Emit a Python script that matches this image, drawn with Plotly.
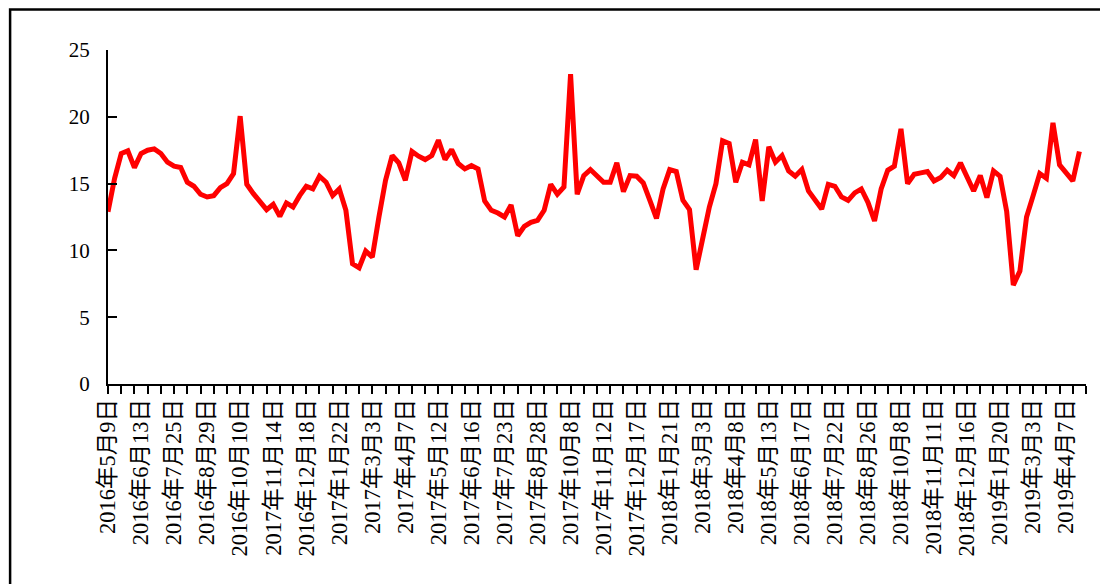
import plotly.graph_objects as go

values = [
    12.9, 15.4, 17.25, 17.45, 16.2, 17.25, 17.5, 17.6, 17.25, 16.6,
    16.3, 16.2, 15.1, 14.8, 14.2, 14.0, 14.1, 14.7, 15.0, 15.75,
    20.05, 14.95, 14.25, 13.6, 13.05, 13.45, 12.55, 13.55, 13.25, 14.1,
    14.8, 14.6, 15.55, 15.1, 14.1, 14.6, 13.0, 9.0, 8.7, 9.95,
    9.5, 12.5, 15.25, 17.1, 16.55, 15.25, 17.4, 17.05, 16.8, 17.1,
    18.25, 16.8, 17.55, 16.5, 16.1, 16.35, 16.1, 13.7, 13.0, 12.8,
    12.5, 13.4, 11.1, 11.8, 12.1, 12.25, 13.0, 14.95, 14.2, 14.75,
    23.2, 14.2, 15.6, 16.05, 15.55, 15.1, 15.1, 16.55, 14.4, 15.6,
    15.55, 15.05, 13.75, 12.4, 14.6, 16.05, 15.9, 13.75, 13.05, 8.55,
    10.9, 13.25, 15.0, 18.2, 18.0, 15.1, 16.6, 16.4, 18.3, 13.7,
    17.75, 16.6, 17.1, 15.95, 15.55, 16.05, 14.45, 13.8, 13.1, 14.95,
    14.8, 14.0, 13.75, 14.3, 14.6, 13.6, 12.2, 14.6, 16.0, 16.3,
    19.1, 15.0, 15.7, 15.8, 15.9, 15.2, 15.45, 16.0, 15.6, 16.55,
    15.5, 14.45, 15.6, 13.95, 15.95, 15.55, 12.9, 7.4, 8.45, 12.5,
    14.1, 15.75, 15.4, 19.55, 16.4, 15.8, 15.2, 17.4,
]

# category labels shown on the axis (every 5th observation)
tick_labels = [
    "2016年5月9日", "2016年6月13日", "2016年7月25日", "2016年8月29日",
    "2016年10月10日", "2017年11月14日", "2016年12月18日", "2017年1月22日",
    "2017年3月3日", "2017年4月7日", "2017年5月12日", "2017年6月16日",
    "2017年7月23日", "2017年8月28日", "2017年10月8日", "2017年11月12日",
    "2017年12月17日", "2018年1月21日", "2018年3月3日", "2018年4月8日",
    "2018年5月13日", "2018年6月17日", "2018年7月22日", "2018年8月26日",
    "2018年10月8日", "2018年11月11日", "2018年12月16日", "2019年1月20日",
    "2019年3月3日", "2019年4月7日",
]
LABEL_STEP = 5
y_ticks = [0, 5, 10, 15, 20, 25]

# the page body has an 8px margin, so the figure is sized/offset to compensate
W, H = 1100, 576
L, R, T, B = 99.5, 21.5, 42, 200
FONT = "Liberation Serif, Noto Sans CJK SC, serif"

x = list(range(len(values)))
tick_pos = [i * LABEL_STEP for i in range(len(tick_labels))]

fig = go.Figure(
    go.Scatter(
        x=x, y=values, mode="lines",
        line=dict(color="#FF0000", width=5),
        hoverinfo="skip", showlegend=False,
    )
)

pw = W - L - R
ph = H - T - B

def px_x(p):
    return (p - L) / pw

def px_y(p):
    return (H - B - p) / ph

fig.add_shape(
    type="rect", xref="paper", yref="paper",
    x0=px_x(1.5), x1=px_x(1130), y0=px_y(1.5), y1=px_y(620),
    line=dict(color="black", width=2.5), fillcolor="rgba(0,0,0,0)",
)

fig.update_layout(
    width=W, height=H,
    margin=dict(l=L, r=R, t=T, b=B, pad=0),
    paper_bgcolor="white", plot_bgcolor="white",
    font=dict(family=FONT, color="black"),
    xaxis=dict(
        range=[0, len(values)],
        showgrid=False, zeroline=False,
        showline=True, linecolor="black", linewidth=2,
        tickmode="array", tickvals=tick_pos, ticktext=tick_labels,
        ticks="", tickangle=-90,
        tickfont=dict(family=FONT, size=22.5, color="black"),
        ticklabelstandoff=4,
        minor=dict(ticks="outside", tickmode="linear", tick0=0, dtick=2,
                   ticklen=8, tickwidth=2, tickcolor="black", showgrid=False),
    ),
    yaxis=dict(
        range=[0, 25],
        showgrid=False, zeroline=False,
        showline=True, linecolor="black", linewidth=2,
        tickmode="array", tickvals=y_ticks,
        ticks="inside", ticklen=9, tickwidth=2, tickcolor="black",
        tickfont=dict(family=FONT, size=21, color="black"),
        ticklabelstandoff=12,
    ),
)

fig.write_html("out.html")
